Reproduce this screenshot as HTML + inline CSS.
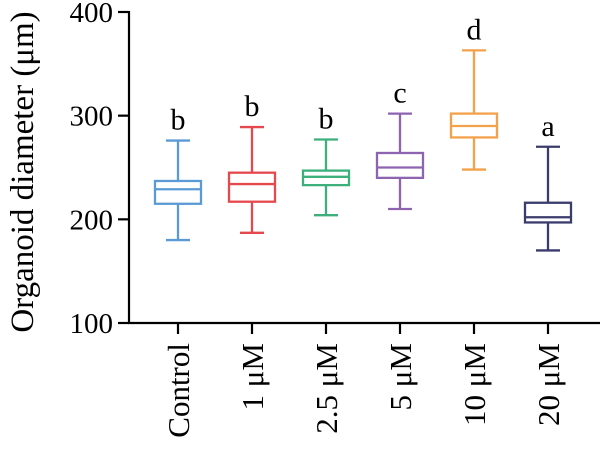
<!DOCTYPE html>
<html><head><meta charset="utf-8"><style>
html,body{margin:0;padding:0;background:#fff;width:600px;height:452px;overflow:hidden}
svg{display:block;font-family:"Liberation Serif",serif}
</style></head><body>
<svg id="chart" width="600" height="452" viewBox="0 0 600 452" xmlns="http://www.w3.org/2000/svg">
<text transform="translate(33,172) rotate(-90)" text-anchor="middle" font-size="33">Organoid diameter (μm)</text>
<g id="axes"></g>
<g id="boxes"></g>
</svg>
<script>
const categories = ["Control","1 μM","2.5 μM","5 μM","10 μM","20 μM"];
const whiskerLow = [180,187,204,210,248,170];
const q1 = [215,217,233,240,279,197];
const median = [229,234,241,250,290,202];
const q3 = [237,245,247,264,302,216];
const whiskerHigh = [276,289,277,302,363,270];
const letters = ["b","b","b","c","d","a"];
const yTicks = [100,200,300,400];
const colors = ["#5b9bd5","#e5484d","#3daf7a","#8e63b0","#f4a14b","#3b3b6d"];

const NS="http://www.w3.org/2000/svg";
const y = v => 323 - (v-100)*(311/300);
const x = i => 178 + i*74;
function mk(tag, attrs, parent){const e=document.createElementNS(NS,tag);for(const k in attrs)e.setAttribute(k,attrs[k]);parent.appendChild(e);return e;}
const axes=document.getElementById('axes'), boxes=document.getElementById('boxes');

const yAxis=mk('line',{x1:129,y1:y(400)-1,x2:129,y2:y(100)+1,stroke:'#000','stroke-width':2.2},axes);


const xAxis=mk('line',{x1:128,y1:y(100),x2:600,y2:y(100),stroke:'#000','stroke-width':2.2},axes);



yTicks.forEach(t=>{
  const tk=mk('line',{x1:118,y1:y(t),x2:129,y2:y(t),stroke:'#000','stroke-width':2.2},axes);
  
  
  const lb=mk('text',{x:113,y:y(t)+10,'text-anchor':'end','font-size':29},axes);
  
  
  lb.textContent=t;
});

categories.forEach((c,i)=>{
  const cx=x(i), col=colors[i], hw=23, cw=12, sw=2.3;
  const tk=mk('line',{x1:cx,y1:y(100),x2:cx,y2:y(100)+11,stroke:'#000','stroke-width':2.2},axes);
  
  
  const lb=mk('text',{transform:`translate(${cx+11},343) rotate(-90)`,'text-anchor':'end','font-size':31},axes);
  
  
  lb.textContent=c;

  const g=mk('g',{stroke:col,'stroke-width':sw,fill:'none'},boxes);
  
  
  mk('line',{x1:cx,y1:y(whiskerHigh[i]),x2:cx,y2:y(q3[i])},g);
  mk('line',{x1:cx,y1:y(q1[i]),x2:cx,y2:y(whiskerLow[i])},g);
  mk('line',{x1:cx-cw,y1:y(whiskerHigh[i]),x2:cx+cw,y2:y(whiskerHigh[i])},g);
  mk('line',{x1:cx-cw,y1:y(whiskerLow[i]),x2:cx+cw,y2:y(whiskerLow[i])},g);
  mk('rect',{x:cx-hw,y:y(q3[i]),width:hw*2,height:y(q1[i])-y(q3[i])},g);
  mk('line',{x1:cx-hw-1,y1:y(median[i]),x2:cx+hw+1,y2:y(median[i])},g);
  const lt=mk('text',{x:cx,y:y(whiskerHigh[i])-11,'text-anchor':'middle','font-size':30,fill:'#000'},boxes);
  
  
  lt.textContent=letters[i];
});
</script>
</body></html>
